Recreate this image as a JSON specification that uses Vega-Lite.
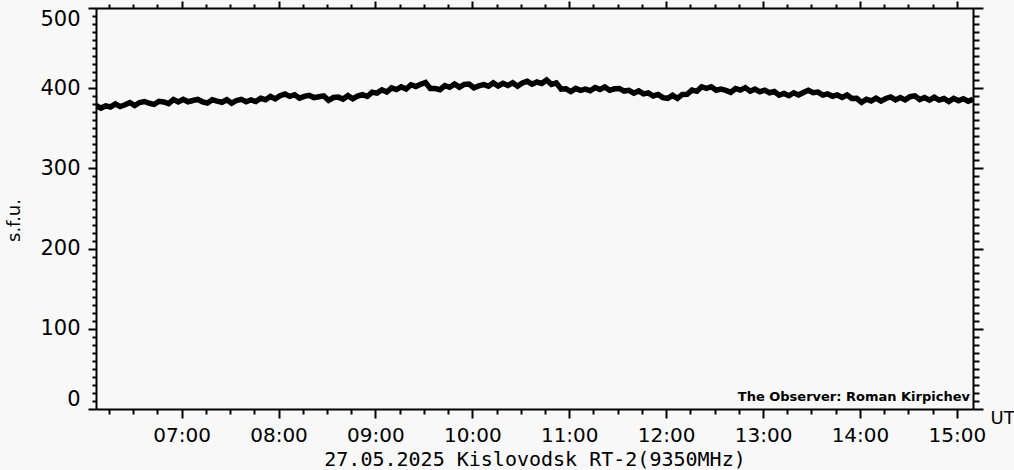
{
  "$schema": "https://vega.github.io/schema/vega-lite/v6.json",
  "width": 877,
  "height": 401,
  "autosize": {"type": "none"},
  "padding": {"left": 96, "top": 8, "right": 41, "bottom": 61},
  "background": "#f8f8f8",
  "config": {
    "view": {"stroke": null},
    "font": "DejaVu Sans",
    "axis": {
      "domainColor": "black",
      "domainWidth": 2,
      "tickColor": "black",
      "tickWidth": 2,
      "labelColor": "black",
      "labelFont": "DejaVu Sans",
      "labelFontSize": 21,
      "titleColor": "black",
      "titleFont": "DejaVu Sans",
      "titleFontWeight": "normal",
      "grid": false,
      "labelOverlap": false
    }
  },
  "data": {
    "values": [
      {"time": "2025-05-27T06:07", "sfu": 378.5}, {"time": "2025-05-27T06:10", "sfu": 375.2}, {"time": "2025-05-27T06:13", "sfu": 377.9}, {"time": "2025-05-27T06:16", "sfu": 376.6}, {"time": "2025-05-27T06:19", "sfu": 380.3}, {"time": "2025-05-27T06:22", "sfu": 377.1}, {"time": "2025-05-27T06:25", "sfu": 379.3}, {"time": "2025-05-27T06:28", "sfu": 382.1}, {"time": "2025-05-27T06:31", "sfu": 378.4}, {"time": "2025-05-27T06:34", "sfu": 382.2}, {"time": "2025-05-27T06:37", "sfu": 383.4}, {"time": "2025-05-27T06:40", "sfu": 381.2}, {"time": "2025-05-27T06:43", "sfu": 379.9}, {"time": "2025-05-27T06:46", "sfu": 383.7}, {"time": "2025-05-27T06:49", "sfu": 382.9}, {"time": "2025-05-27T06:52", "sfu": 380.7}, {"time": "2025-05-27T06:55", "sfu": 385.9}, {"time": "2025-05-27T06:58", "sfu": 382.9},
      {"time": "2025-05-27T07:01", "sfu": 386}, {"time": "2025-05-27T07:04", "sfu": 383.1}, {"time": "2025-05-27T07:07", "sfu": 384.7}, {"time": "2025-05-27T07:10", "sfu": 386}, {"time": "2025-05-27T07:13", "sfu": 383}, {"time": "2025-05-27T07:16", "sfu": 381.5}, {"time": "2025-05-27T07:19", "sfu": 385.5}, {"time": "2025-05-27T07:22", "sfu": 383.9}, {"time": "2025-05-27T07:25", "sfu": 382.5}, {"time": "2025-05-27T07:28", "sfu": 385.6}, {"time": "2025-05-27T07:31", "sfu": 381.3}, {"time": "2025-05-27T07:34", "sfu": 384.7}, {"time": "2025-05-27T07:37", "sfu": 386.1}, {"time": "2025-05-27T07:40", "sfu": 383}, {"time": "2025-05-27T07:43", "sfu": 385.5}, {"time": "2025-05-27T07:46", "sfu": 383.4}, {"time": "2025-05-27T07:49", "sfu": 387.4}, {"time": "2025-05-27T07:52", "sfu": 385.7}, {"time": "2025-05-27T07:55", "sfu": 389.7}, {"time": "2025-05-27T07:58", "sfu": 386.7},
      {"time": "2025-05-27T08:01", "sfu": 390.6}, {"time": "2025-05-27T08:04", "sfu": 392.7}, {"time": "2025-05-27T08:07", "sfu": 389.8}, {"time": "2025-05-27T08:10", "sfu": 391.9}, {"time": "2025-05-27T08:13", "sfu": 387.6}, {"time": "2025-05-27T08:16", "sfu": 389.8}, {"time": "2025-05-27T08:19", "sfu": 391}, {"time": "2025-05-27T08:22", "sfu": 388.3}, {"time": "2025-05-27T08:25", "sfu": 389.4}, {"time": "2025-05-27T08:28", "sfu": 390.4}, {"time": "2025-05-27T08:31", "sfu": 384.9}, {"time": "2025-05-27T08:34", "sfu": 388.4}, {"time": "2025-05-27T08:37", "sfu": 388.9}, {"time": "2025-05-27T08:40", "sfu": 386.4}, {"time": "2025-05-27T08:43", "sfu": 390.7}, {"time": "2025-05-27T08:46", "sfu": 386.9}, {"time": "2025-05-27T08:49", "sfu": 390.2}, {"time": "2025-05-27T08:52", "sfu": 392}, {"time": "2025-05-27T08:55", "sfu": 389.7}, {"time": "2025-05-27T08:58", "sfu": 394.9},
      {"time": "2025-05-27T09:01", "sfu": 393.9}, {"time": "2025-05-27T09:04", "sfu": 398}, {"time": "2025-05-27T09:07", "sfu": 395.3}, {"time": "2025-05-27T09:10", "sfu": 400.5}, {"time": "2025-05-27T09:13", "sfu": 398.3}, {"time": "2025-05-27T09:16", "sfu": 401.6}, {"time": "2025-05-27T09:19", "sfu": 399}, {"time": "2025-05-27T09:22", "sfu": 404.3}, {"time": "2025-05-27T09:25", "sfu": 402.2}, {"time": "2025-05-27T09:28", "sfu": 404.9}, {"time": "2025-05-27T09:31", "sfu": 407}, {"time": "2025-05-27T09:34", "sfu": 399.7}, {"time": "2025-05-27T09:37", "sfu": 399.5}, {"time": "2025-05-27T09:40", "sfu": 398.1}, {"time": "2025-05-27T09:43", "sfu": 403.2}, {"time": "2025-05-27T09:46", "sfu": 401.2}, {"time": "2025-05-27T09:49", "sfu": 405.2}, {"time": "2025-05-27T09:52", "sfu": 401.3}, {"time": "2025-05-27T09:55", "sfu": 404.8}, {"time": "2025-05-27T09:58", "sfu": 405.1},
      {"time": "2025-05-27T10:01", "sfu": 400.5}, {"time": "2025-05-27T10:04", "sfu": 402.9}, {"time": "2025-05-27T10:07", "sfu": 404.4}, {"time": "2025-05-27T10:10", "sfu": 402.5}, {"time": "2025-05-27T10:13", "sfu": 406.6}, {"time": "2025-05-27T10:16", "sfu": 402.8}, {"time": "2025-05-27T10:19", "sfu": 406.1}, {"time": "2025-05-27T10:22", "sfu": 403.4}, {"time": "2025-05-27T10:25", "sfu": 406.7}, {"time": "2025-05-27T10:28", "sfu": 402.4}, {"time": "2025-05-27T10:31", "sfu": 406.5}, {"time": "2025-05-27T10:34", "sfu": 408.6}, {"time": "2025-05-27T10:37", "sfu": 405}, {"time": "2025-05-27T10:40", "sfu": 407.7}, {"time": "2025-05-27T10:43", "sfu": 405.8}, {"time": "2025-05-27T10:46", "sfu": 410.3}, {"time": "2025-05-27T10:49", "sfu": 404.8}, {"time": "2025-05-27T10:52", "sfu": 406.6}, {"time": "2025-05-27T10:55", "sfu": 398.9}, {"time": "2025-05-27T10:58", "sfu": 399.3},
      {"time": "2025-05-27T11:01", "sfu": 395.8}, {"time": "2025-05-27T11:04", "sfu": 399.8}, {"time": "2025-05-27T11:07", "sfu": 397.3}, {"time": "2025-05-27T11:10", "sfu": 398.8}, {"time": "2025-05-27T11:13", "sfu": 396.9}, {"time": "2025-05-27T11:16", "sfu": 400.9}, {"time": "2025-05-27T11:19", "sfu": 398.5}, {"time": "2025-05-27T11:22", "sfu": 401.5}, {"time": "2025-05-27T11:25", "sfu": 397.4}, {"time": "2025-05-27T11:28", "sfu": 399.3}, {"time": "2025-05-27T11:31", "sfu": 399.7}, {"time": "2025-05-27T11:34", "sfu": 396.4}, {"time": "2025-05-27T11:37", "sfu": 397.4}, {"time": "2025-05-27T11:40", "sfu": 393.8}, {"time": "2025-05-27T11:43", "sfu": 396.6}, {"time": "2025-05-27T11:46", "sfu": 392.9}, {"time": "2025-05-27T11:49", "sfu": 394.2}, {"time": "2025-05-27T11:52", "sfu": 390.3}, {"time": "2025-05-27T11:55", "sfu": 392.2}, {"time": "2025-05-27T11:58", "sfu": 388.2},
      {"time": "2025-05-27T12:01", "sfu": 387.4}, {"time": "2025-05-27T12:04", "sfu": 391.1}, {"time": "2025-05-27T12:07", "sfu": 387.4}, {"time": "2025-05-27T12:10", "sfu": 392.2}, {"time": "2025-05-27T12:13", "sfu": 392.4}, {"time": "2025-05-27T12:16", "sfu": 397.6}, {"time": "2025-05-27T12:19", "sfu": 396.1}, {"time": "2025-05-27T12:22", "sfu": 401.7}, {"time": "2025-05-27T12:25", "sfu": 399.8}, {"time": "2025-05-27T12:28", "sfu": 401.8}, {"time": "2025-05-27T12:31", "sfu": 397.5}, {"time": "2025-05-27T12:34", "sfu": 398.8}, {"time": "2025-05-27T12:37", "sfu": 397.2}, {"time": "2025-05-27T12:40", "sfu": 394.9}, {"time": "2025-05-27T12:43", "sfu": 399.5}, {"time": "2025-05-27T12:46", "sfu": 397.6}, {"time": "2025-05-27T12:49", "sfu": 400.7}, {"time": "2025-05-27T12:52", "sfu": 396.3}, {"time": "2025-05-27T12:55", "sfu": 398.8}, {"time": "2025-05-27T12:58", "sfu": 395.5},
      {"time": "2025-05-27T13:01", "sfu": 397.6}, {"time": "2025-05-27T13:04", "sfu": 394.3}, {"time": "2025-05-27T13:07", "sfu": 395.9}, {"time": "2025-05-27T13:10", "sfu": 391.4}, {"time": "2025-05-27T13:13", "sfu": 393.4}, {"time": "2025-05-27T13:16", "sfu": 390.6}, {"time": "2025-05-27T13:19", "sfu": 394.3}, {"time": "2025-05-27T13:22", "sfu": 391.5}, {"time": "2025-05-27T13:25", "sfu": 394.7}, {"time": "2025-05-27T13:28", "sfu": 397.4}, {"time": "2025-05-27T13:31", "sfu": 394.3}, {"time": "2025-05-27T13:34", "sfu": 395.1}, {"time": "2025-05-27T13:37", "sfu": 391.4}, {"time": "2025-05-27T13:40", "sfu": 393}, {"time": "2025-05-27T13:43", "sfu": 390}, {"time": "2025-05-27T13:46", "sfu": 391.6}, {"time": "2025-05-27T13:49", "sfu": 388.6}, {"time": "2025-05-27T13:52", "sfu": 391.6}, {"time": "2025-05-27T13:55", "sfu": 387.2}, {"time": "2025-05-27T13:58", "sfu": 387.3},
      {"time": "2025-05-27T14:01", "sfu": 382.4}, {"time": "2025-05-27T14:04", "sfu": 386.3}, {"time": "2025-05-27T14:07", "sfu": 384.1}, {"time": "2025-05-27T14:10", "sfu": 387.5}, {"time": "2025-05-27T14:13", "sfu": 383.9}, {"time": "2025-05-27T14:16", "sfu": 387.2}, {"time": "2025-05-27T14:19", "sfu": 389.1}, {"time": "2025-05-27T14:22", "sfu": 385.4}, {"time": "2025-05-27T14:25", "sfu": 388.3}, {"time": "2025-05-27T14:28", "sfu": 385.4}, {"time": "2025-05-27T14:31", "sfu": 389.4}, {"time": "2025-05-27T14:34", "sfu": 390.4}, {"time": "2025-05-27T14:37", "sfu": 385.9}, {"time": "2025-05-27T14:40", "sfu": 388.4}, {"time": "2025-05-27T14:43", "sfu": 385.2}, {"time": "2025-05-27T14:46", "sfu": 388.7}, {"time": "2025-05-27T14:49", "sfu": 385.2}, {"time": "2025-05-27T14:52", "sfu": 387.1}, {"time": "2025-05-27T14:55", "sfu": 383.3}, {"time": "2025-05-27T14:58", "sfu": 387.3},
      {"time": "2025-05-27T15:01", "sfu": 384.3}, {"time": "2025-05-27T15:04", "sfu": 386.8}, {"time": "2025-05-27T15:07", "sfu": 383.8}, {"time": "2025-05-27T15:10", "sfu": 386.3}
    ]
  },
  "layer": [
    {
      "mark": {"type": "line", "color": "black", "strokeWidth": 5.5, "strokeJoin": "miter", "clip": true},
      "encoding": {
        "x": {
          "field": "time",
          "type": "temporal",
          "scale": {
            "domain": [
              {"year": 2025, "month": 5, "date": 27, "hours": 6, "minutes": 7},
              {"year": 2025, "month": 5, "date": 27, "hours": 15, "minutes": 10}
            ],
            "nice": false
          },
          "title": "27.05.2025 Kislovodsk RT-2(9350MHz)",
          "axis": {
            "orient": "bottom",
            "tickCount": 36,
            "format": "%H:%M",
            "labelExpr": "minutes(datum.value) === 0 ? datum.label : ''",
            "tickSize": 9,
            "tickDash": {"condition": {"test": "minutes(datum.value) === 0", "value": [20, 0]}, "value": [5, 20]},
            "labelPadding": 7,
            "labelFontSize": 20,
            "titleFont": "DejaVu Sans Mono",
            "titleFontSize": 20,
            "titleBaseline": "top",
            "titleY": 40
          }
        },
        "y": {
          "field": "sfu",
          "type": "quantitative",
          "scale": {"domain": [0, 500], "nice": false},
          "title": "s.f.u.",
          "axis": {
            "orient": "left",
            "values": [0,10,20,30,40,50,60,70,80,90,100,110,120,130,140,150,160,170,180,190,200,210,220,230,240,250,260,270,280,290,300,310,320,330,340,350,360,370,380,390,400,410,420,430,440,450,460,470,480,490,500],
            "labelExpr": "datum.value % 100 === 0 ? datum.label : ''",
            "tickSize": 8,
            "tickDash": {"condition": {"test": "datum.value % 100 === 0", "value": [20, 0]}, "value": [4, 20]},
            "labelPadding": 8,
            "labelFlush": true,
            "labelFontSize": 21,
            "titleFontSize": 18,
            "titleAngle": 270,
            "titleAlign": "center",
            "titleBaseline": "middle",
            "titleX": -82,
            "titleY": 212
          }
        }
      }
    },
    {
      "mark": {"type": "line", "opacity": 0},
      "encoding": {
        "x": {
          "field": "time",
          "type": "temporal",
          "axis": {
            "orient": "top",
            "title": null,
            "labels": false,
            "tickCount": 36,
            "tickSize": 7,
            "tickDash": {"condition": {"test": "minutes(datum.value) === 0", "value": [20, 0]}, "value": [4, 20]}
          }
        },
        "y": {
          "field": "sfu",
          "type": "quantitative",
          "axis": {
            "orient": "right",
            "labels": false,
            "values": [0,10,20,30,40,50,60,70,80,90,100,110,120,130,140,150,160,170,180,190,200,210,220,230,240,250,260,270,280,290,300,310,320,330,340,350,360,370,380,390,400,410,420,430,440,450,460,470,480,490,500],
            "tickSize": 10,
            "tickDash": {"condition": {"test": "datum.value % 100 === 0", "value": [20, 0]}, "value": [6, 20]},
            "title": "UT",
            "titleFontSize": 18,
            "titleAngle": 0,
            "titleAlign": "left",
            "titleBaseline": "top",
            "titleX": 17,
            "titleY": 401
          }
        }
      }
    },
    {
      "data": {"values": [{"time": "2025-05-27T15:10", "sfu": 0, "note": "The Observer: Roman Kirpichev"}]},
      "mark": {"type": "text", "align": "right", "baseline": "alphabetic", "dx": -3, "dy": -8, "font": "DejaVu Sans", "fontSize": 13, "fontWeight": "bold", "color": "black"},
      "encoding": {
        "x": {"field": "time", "type": "temporal", "axis": null},
        "y": {"field": "sfu", "type": "quantitative", "axis": null},
        "text": {"field": "note", "type": "nominal"}
      }
    }
  ],
  "resolve": {"axis": {"x": "independent", "y": "independent"}}
}
